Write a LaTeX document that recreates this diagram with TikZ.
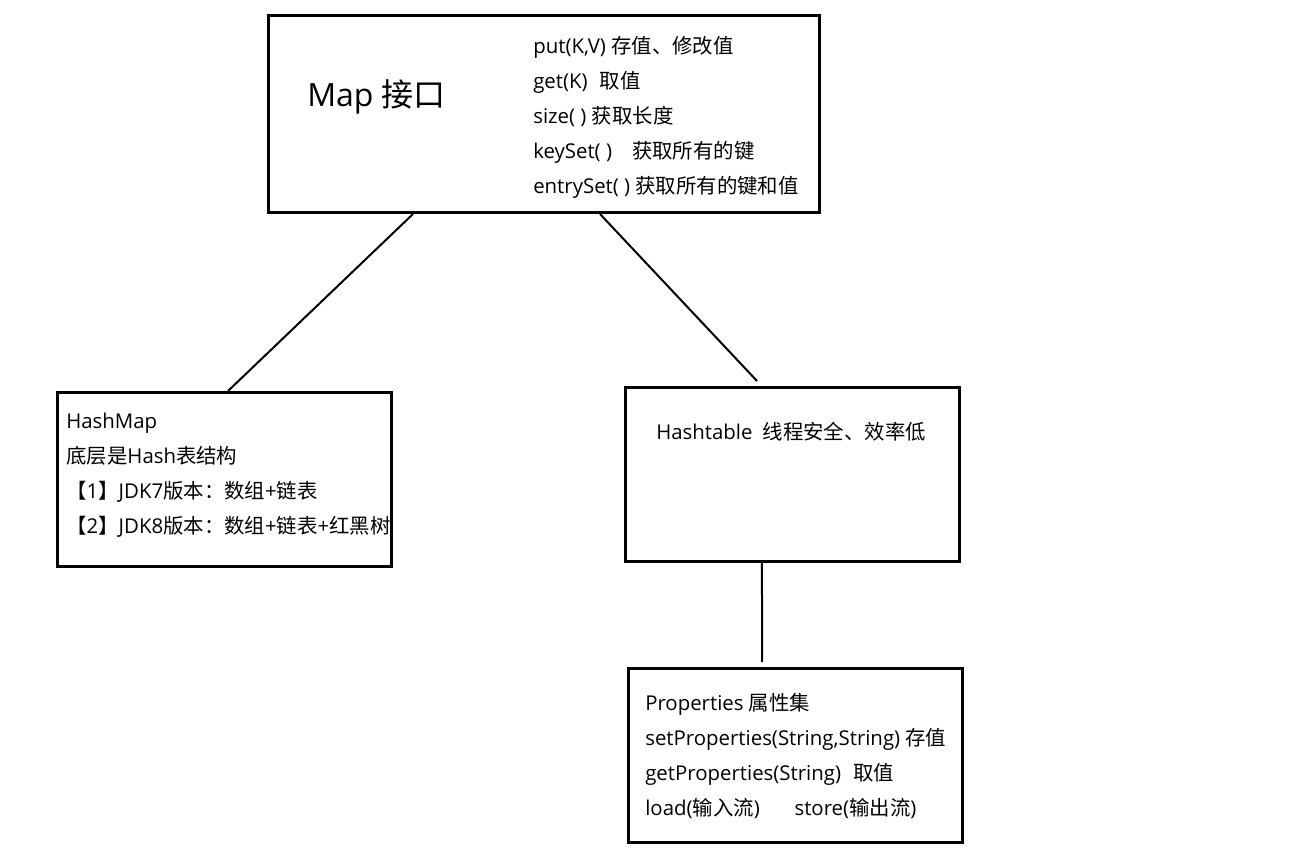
\documentclass[tikz,border=0pt]{standalone}
\usepackage{fontspec}
\setmainfont{Open Sans}
\newfontfamily\cjk{Noto Sans CJK SC}

% switch to the CJK family for Chinese characters and full-width punctuation
\XeTeXinterchartokenstate=1
\newXeTeXintercharclass\cjkclass
\newcount\cjkcode
\def\setcjkrange#1#2{%
  \cjkcode=#1
  \loop\ifnum\cjkcode<#2
    \XeTeXcharclass\cjkcode=\cjkclass
    \advance\cjkcode by 1
  \repeat}
\setcjkrange{"3000}{"3040}
\setcjkrange{"4E00}{"A000}
\setcjkrange{"FF00}{"FFF0}
\XeTeXinterchartoks 0 \cjkclass = {\begingroup\cjk}
\XeTeXinterchartoks 4095 \cjkclass = {\begingroup\cjk}
\XeTeXinterchartoks \cjkclass 0 = {\endgroup}
\XeTeXinterchartoks \cjkclass 4095 = {\endgroup}

\begin{document}
\begin{tikzpicture}[x=0.75pt, y=-0.75pt, font=\fontsize{15.3}{26.25}\selectfont]
        \tikzset{
            box/.style={
                draw=black,
                line width=2.25pt,
                inner sep=0pt,
                minimum width=250.5pt,
                minimum height=130.5pt
            },
            txt/.style={
                anchor=west,
                inner sep=0pt,
                align=left
            },
            link/.style={line width=1.5pt, draw=black}
        }

        \useasboundingbox (0, 0) rectangle (1298, 858);

        \node[box, minimum width=413.25pt, minimum height=147.75pt] (map) at (544, 114) {};
        \node[box] (hashmap) at (224, 479.5) {};
        \node[box] (hashtable) at (792.5, 474.5) {};
        \node[box] (props) at (795.5, 755.5) {};

        \node[txt, font=\fontsize{24}{28}\selectfont] (maptitle) at (307, 97) {Map 接口};
        \node[txt] (mapops) at (533, 117)
            {put(K,V) 存值、修改值\\get(K)\hspace{0.6em}取值\\size( ) 获取长度\\keySet( )\hspace{15pt}获取所有的键\\entrySet( ) 获取所有的键和值};
        \node[txt] (hmtext) at (66, 475.5)
            {HashMap\\底层是Hash表结构\\【1】JDK7版本：数组+链表\\【2】JDK8版本：数组+链表+红黑树};
        \node[txt] (httext) at (656, 432) {Hashtable\hspace{0.5em}线程安全、效率低};
        \node[txt] (prtext) at (645, 755.5)
            {Properties 属性集\\setProperties(String,String) 存值\\getProperties(String)\hspace{0.6em}取值\\load(输入流)\hspace{26pt}store(输出流)};

        \draw[link] ([xshift=-98.25pt]map.south) -- ([xshift=3pt]hashmap.north);
        \draw[link] ([xshift=42pt]map.south) -- ([xshift=-26.6pt, yshift=3.75pt]hashtable.north);
        \draw[link] ([xshift=-22.9pt]hashtable.south) -- ([xshift=-25.1pt, yshift=3.75pt]props.north);
    \end{tikzpicture}
\end{document}
